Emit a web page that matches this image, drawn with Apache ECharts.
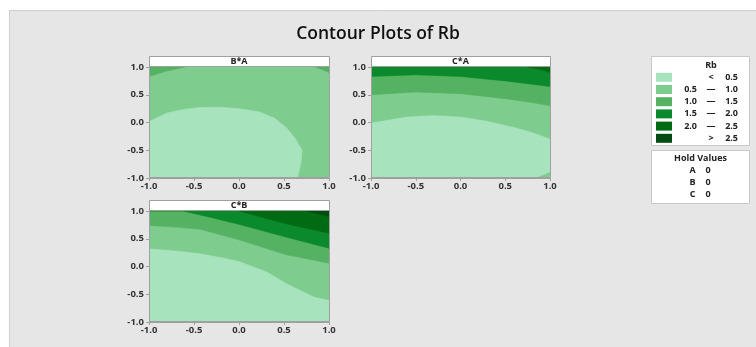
<!DOCTYPE html>
<html><head><meta charset="utf-8">
<script src="https://cdn.jsdelivr.net/npm/echarts@6/dist/echarts.min.js"></script>
<style>html,body{margin:0;padding:0;background:#fff}#c{width:756px;height:347px}</style>
</head><body><div id="c"></div><script>
// ---------- data ----------
const chartTitle = 'Contour Plots of Rb';
const panelTitles = ['B*A', 'C*A', 'C*B'];
const axisTicks = [-1.0, -0.5, 0.0, 0.5, 1.0];
const legendTitle = 'Rb';
const levelLow  = ['', '0.5', '1.0', '1.5', '2.0', ''];
const levelMid  = ['<', '—', '—', '—', '—', '>'];
const levelHigh = ['0.5', '1.0', '1.5', '2.0', '2.5', '2.5'];
const holdFactors = ['A', 'B', 'C'];
const holdValues = [0, 0, 0];

// contour boundaries (x, y)
// B*A : base level 1 (0.5-1.0)
const baLight   = [[-1,0.015],[-0.8,0.17],[-0.6,0.24],[-0.43,0.27],[-0.21,0.275],[0,0.25],[0.23,0.19],[0.4,0.07],[0.53,-0.1],[0.63,-0.3],[0.7,-0.5],[0.69,-0.7],[0.67,-0.86],[0.65,-1],[-1,-1]];
const baCornerL = [[-1,0.83],[-0.8,0.93],[-0.6,1],[-1,1]];
const baCornerR = [[0.85,1],[0.93,0.95],[1,0.9],[1,1]];
// C*A : base level 0 (<0.5), levels rise upward
const caC1 = [[-1,0.0],[-0.6,0.11],[-0.3,0.135],[0,0.11],[0.3,0.03],[0.6,-0.08],[0.8,-0.17],[1,-0.29]];
const caC2 = [[-1,0.5],[-0.5,0.55],[0,0.52],[0.5,0.43],[0.8,0.36],[1,0.3]];
const caC3 = [[-1,0.83],[-0.5,0.86],[0,0.83],[0.5,0.75],[1,0.65]];
const caC4 = [[0.75,1],[0.9,0.95],[1,0.9]];
const caCornerBR = [[0.85,-1],[1,-0.9],[1,-1]];
// C*B : base level 0 (<0.5), levels rise toward top-right
const cbC1 = [[-1,0.33],[-0.7,0.29],[-0.43,0.24],[-0.2,0.17],[0,0.1],[0.31,-0.09],[0.53,-0.3],[0.83,-0.54],[1,-0.6]];
const cbC2 = [[-1,0.74],[-0.7,0.71],[-0.43,0.67],[0,0.48],[0.53,0.21],[1,0.06]];
const cbC3 = [[-0.62,1],[-0.3,0.88],[0,0.76],[0.5,0.54],[1,0.33]];
const cbC4 = [[0,1],[0.5,0.78],[1,0.6]];
const cbC5 = [[0.75,1],[1,0.9]];

// ---------- style ----------
const levelColors = ['#a7e4be','#7fcc8f','#55b263','#0a8a2c','#006b12','#004c13'];
const FONT = 'Open Sans';
const layout = [
  {left:149, top:67, w:180, h:111},
  {left:371, top:67, w:179, h:111},
  {left:149, top:211, w:180, h:111}
];
const baseLevel = [1, 0, 0];

function above(c){ return c.concat([[1,1],[-1,1]]); }
const regions = [
  [{level:0, pts:baLight},{level:2, pts:baCornerL},{level:2, pts:baCornerR}],
  [{level:1, pts:above(caC1)},{level:2, pts:above(caC2)},{level:3, pts:above(caC3)},{level:4, pts:caC4.concat([[1,1]])},{level:1, pts:caCornerBR}],
  [{level:1, pts:above(cbC1)},{level:2, pts:above(cbC2)},{level:3, pts:above(cbC3)},{level:4, pts:cbC4.concat([[1,1]])},{level:5, pts:cbC5.concat([[1,1]])}]
];

const axisColor = '#a0a0a0';
const labelStyle = {fontSize:9.5, fontWeight:'bold', color:'#333', fontFamily:FONT};

const grids = layout.map((g,i)=>({left:g.left, top:g.top, width:g.w, height:g.h, show:true,
  backgroundColor: levelColors[baseLevel[i]], borderWidth:0}));
const xAxes = layout.map((g,i)=>({gridIndex:i, type:'value', min:axisTicks[0], max:axisTicks[axisTicks.length-1], interval:0.5,
  axisLine:{show:true, onZero:false, lineStyle:{color:axisColor}}, axisTick:{show:true, length:3, lineStyle:{color:axisColor}},
  splitLine:{show:false}, axisLabel:Object.assign({formatter:v=>v.toFixed(1), margin:3, showMinLabel:true, showMaxLabel:true}, labelStyle)}));
const yAxes = layout.map((g,i)=>({gridIndex:i, type:'value', min:axisTicks[0], max:axisTicks[axisTicks.length-1], interval:0.5,
  axisLine:{show:true, onZero:false, lineStyle:{color:axisColor}}, axisTick:{show:true, length:3, lineStyle:{color:axisColor}},
  splitLine:{show:false}, axisLabel:Object.assign({formatter:v=>v.toFixed(1), margin:5, showMinLabel:true, showMaxLabel:true}, labelStyle)}));

const series = regions.map((regs,i)=>({
  type:'custom', xAxisIndex:i, yAxisIndex:i, clip:true, silent:true,
  data: regs.map(r=>({value:r.pts[0]})),
  renderItem:(params, api)=>{
    const r = regs[params.dataIndex];
    return {type:'polygon', shape:{points:r.pts.map(p=>api.coord(p))},
      style:{fill:levelColors[r.level], stroke:levelColors[r.level], lineWidth:0.6}};
  }
}));

const graphics = [];
graphics.push({type:'rect', z:-100, shape:{x:9.5, y:10.5, width:800, height:400}, style:{fill:'#e6e6e6', stroke:'#d0d0d0', lineWidth:1}});
layout.forEach((g,i)=>{
  graphics.push({type:'rect', z:50, shape:{x:g.left+0.5, y:g.top-10.5, width:g.w, height:10}, style:{fill:'#fff', stroke:axisColor, lineWidth:1}});
  graphics.push({type:'text', z:51, x:g.left+g.w/2, y:g.top-5.5, style:{text:panelTitles[i], fontSize:9, fontWeight:'bold', fontFamily:FONT, fill:'#222', align:'center', verticalAlign:'middle'}});
  graphics.push({type:'rect', z:50, shape:{x:g.left+0.5, y:g.top-0.5, width:g.w, height:g.h}, style:{fill:'none', stroke:axisColor, lineWidth:1}});
});
// legend box
const ts0 = {fontSize:9, fontWeight:'bold', fontFamily:FONT, fill:'#222', verticalAlign:'middle'};
graphics.push({type:'rect', z:50, shape:{x:651.5, y:56.5, width:98, height:89}, style:{fill:'#fff', stroke:'#c8c8c8', lineWidth:1}});
graphics.push({type:'text', z:51, x:711, y:65, style:Object.assign({text:legendTitle, align:'center'}, ts0)});
levelColors.forEach((c,i)=>{
  const cy = 77.3 + i*12.2;
  graphics.push({type:'rect', z:51, shape:{x:656, y:cy-4.5, width:16, height:9}, style:{fill:c}});
  graphics.push({type:'text', z:51, x:697, y:cy, style:Object.assign({text:levelLow[i], align:'right'}, ts0)});
  graphics.push({type:'text', z:51, x:711, y:cy, style:Object.assign({text:levelMid[i], align:'center'}, ts0)});
  graphics.push({type:'text', z:51, x:738, y:cy, style:Object.assign({text:levelHigh[i], align:'right'}, ts0)});
});
// hold values box
graphics.push({type:'rect', z:50, shape:{x:651.5, y:150.5, width:98, height:53}, style:{fill:'#fff', stroke:'#c8c8c8', lineWidth:1}});
graphics.push({type:'text', z:51, x:700.5, y:158.5, style:Object.assign({text:'Hold Values', align:'center'}, ts0)});
holdFactors.forEach((f,i)=>{
  const cy = 170.7 + i*11.7;
  graphics.push({type:'text', z:51, x:692.5, y:cy, style:Object.assign({text:f, align:'center'}, ts0)});
  graphics.push({type:'text', z:51, x:708, y:cy, style:Object.assign({text:String(holdValues[i]), align:'center'}, ts0)});
});

const chart = echarts.init(document.getElementById('c'));
chart.setOption({
  animation:false,
  title:{text:chartTitle, left:'center', top:20, textStyle:{fontSize:17.5, fontWeight:600, fontFamily:FONT, color:'#111'}},
  grid:grids, xAxis:xAxes, yAxis:yAxes, series:series, graphic:graphics
});
</script></body></html>
